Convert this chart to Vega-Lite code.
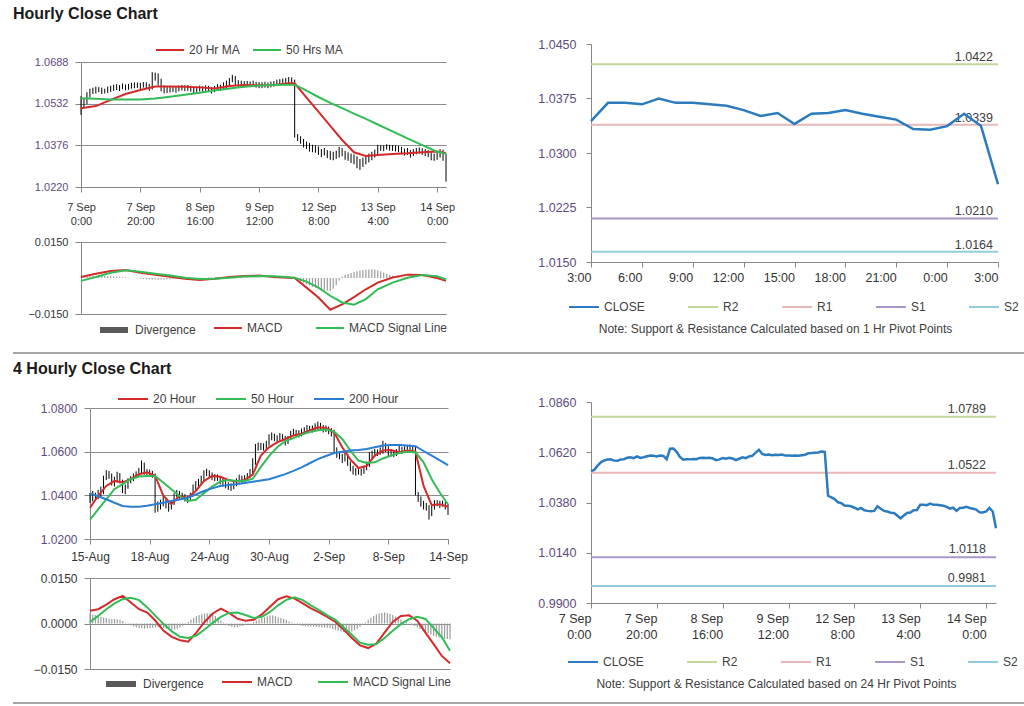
{
"$schema": "https://vega.github.io/schema/vega-lite/v6.json",
"background": "white",
"padding": {"left": 13, "top": 6, "right": 0, "bottom": 0},
"title": {"text": "Hourly Close Chart", "anchor": "start", "frame": "bounds", "fontSize": 16, "fontWeight": "bold", "color": "#1a1a1a", "offset": 13},
"datasets": {
"h1": [
{"t":"2016-09-07 00:00","lo":1.0490,"hi":1.0560,"c":1.0530,"d":0.0002},
{"t":"2016-09-07 01:00","lo":1.0515,"hi":1.0552,"c":1.0536,"d":0.0004},
{"t":"2016-09-07 02:00","lo":1.0530,"hi":1.0575,"c":1.0556,"d":0.0006},
{"t":"2016-09-07 03:00","lo":1.0555,"hi":1.0588,"c":1.0572,"d":0.0007},
{"t":"2016-09-07 04:00","lo":1.0568,"hi":1.0592,"c":1.0581,"d":0.0008},
{"t":"2016-09-07 05:00","lo":1.0570,"hi":1.0596,"c":1.0585,"d":0.0009},
{"t":"2016-09-07 06:00","lo":1.0575,"hi":1.0594,"c":1.0586,"d":0.0010},
{"t":"2016-09-07 07:00","lo":1.0568,"hi":1.0592,"c":1.0580,"d":0.0010},
{"t":"2016-09-07 08:00","lo":1.0570,"hi":1.0588,"c":1.0579,"d":0.0009},
{"t":"2016-09-07 09:00","lo":1.0572,"hi":1.0596,"c":1.0585,"d":0.0008},
{"t":"2016-09-07 10:00","lo":1.0576,"hi":1.0599,"c":1.0587,"d":0.0008},
{"t":"2016-09-07 11:00","lo":1.0580,"hi":1.0603,"c":1.0594,"d":0.0007},
{"t":"2016-09-07 12:00","lo":1.0583,"hi":1.0605,"c":1.0596,"d":0.0006},
{"t":"2016-09-07 13:00","lo":1.0579,"hi":1.0602,"c":1.0592,"d":0.0004},
{"t":"2016-09-07 14:00","lo":1.0586,"hi":1.0608,"c":1.0600,"d":0.0003},
{"t":"2016-09-07 15:00","lo":1.0582,"hi":1.0604,"c":1.0593,"d":0.0002},
{"t":"2016-09-07 16:00","lo":1.0584,"hi":1.0606,"c":1.0596,"d":0.0001},
{"t":"2016-09-07 17:00","lo":1.0588,"hi":1.0610,"c":1.0601,"d":0.0000},
{"t":"2016-09-07 18:00","lo":1.0590,"hi":1.0612,"c":1.0604,"d":-0.0001},
{"t":"2016-09-07 19:00","lo":1.0591,"hi":1.0611,"c":1.0603,"d":-0.0002},
{"t":"2016-09-07 20:00","lo":1.0587,"hi":1.0610,"c":1.0600,"d":-0.0003},
{"t":"2016-09-07 21:00","lo":1.0592,"hi":1.0613,"c":1.0604,"d":-0.0004},
{"t":"2016-09-07 22:00","lo":1.0590,"hi":1.0612,"c":1.0602,"d":-0.0005},
{"t":"2016-09-07 23:00","lo":1.0580,"hi":1.0606,"c":1.0587,"d":-0.0005},
{"t":"2016-09-08 00:00","lo":1.0585,"hi":1.0650,"c":1.0637,"d":-0.0006},
{"t":"2016-09-08 01:00","lo":1.0618,"hi":1.0648,"c":1.0638,"d":-0.0006},
{"t":"2016-09-08 02:00","lo":1.0600,"hi":1.0645,"c":1.0622,"d":-0.0007},
{"t":"2016-09-08 03:00","lo":1.0578,"hi":1.0625,"c":1.0598,"d":-0.0006},
{"t":"2016-09-08 04:00","lo":1.0570,"hi":1.0600,"c":1.0584,"d":-0.0006},
{"t":"2016-09-08 05:00","lo":1.0572,"hi":1.0596,"c":1.0586,"d":-0.0005},
{"t":"2016-09-08 06:00","lo":1.0574,"hi":1.0595,"c":1.0586,"d":-0.0005},
{"t":"2016-09-08 07:00","lo":1.0576,"hi":1.0597,"c":1.0588,"d":-0.0004},
{"t":"2016-09-08 08:00","lo":1.0573,"hi":1.0596,"c":1.0587,"d":-0.0004},
{"t":"2016-09-08 09:00","lo":1.0578,"hi":1.0600,"c":1.0593,"d":-0.0003},
{"t":"2016-09-08 10:00","lo":1.0581,"hi":1.0602,"c":1.0594,"d":-0.0003},
{"t":"2016-09-08 11:00","lo":1.0579,"hi":1.0601,"c":1.0593,"d":-0.0002},
{"t":"2016-09-08 12:00","lo":1.0580,"hi":1.0602,"c":1.0594,"d":-0.0002},
{"t":"2016-09-08 13:00","lo":1.0577,"hi":1.0599,"c":1.0590,"d":-0.0001},
{"t":"2016-09-08 14:00","lo":1.0570,"hi":1.0595,"c":1.0582,"d":-0.0001},
{"t":"2016-09-08 15:00","lo":1.0574,"hi":1.0596,"c":1.0586,"d":0.0000},
{"t":"2016-09-08 16:00","lo":1.0578,"hi":1.0600,"c":1.0592,"d":0.0000},
{"t":"2016-09-08 17:00","lo":1.0576,"hi":1.0598,"c":1.0589,"d":0.0001},
{"t":"2016-09-08 18:00","lo":1.0580,"hi":1.0601,"c":1.0593,"d":0.0001},
{"t":"2016-09-08 19:00","lo":1.0577,"hi":1.0599,"c":1.0590,"d":0.0002},
{"t":"2016-09-08 20:00","lo":1.0570,"hi":1.0594,"c":1.0582,"d":0.0002},
{"t":"2016-09-08 21:00","lo":1.0575,"hi":1.0598,"c":1.0589,"d":0.0002},
{"t":"2016-09-08 22:00","lo":1.0582,"hi":1.0605,"c":1.0596,"d":0.0003},
{"t":"2016-09-08 23:00","lo":1.0580,"hi":1.0603,"c":1.0592,"d":0.0003},
{"t":"2016-09-09 00:00","lo":1.0586,"hi":1.0612,"c":1.0600,"d":0.0003},
{"t":"2016-09-09 01:00","lo":1.0590,"hi":1.0618,"c":1.0603,"d":0.0003},
{"t":"2016-09-09 02:00","lo":1.0600,"hi":1.0628,"c":1.0618,"d":0.0004},
{"t":"2016-09-09 03:00","lo":1.0612,"hi":1.0640,"c":1.0632,"d":0.0004},
{"t":"2016-09-09 04:00","lo":1.0600,"hi":1.0635,"c":1.0612,"d":0.0004},
{"t":"2016-09-09 05:00","lo":1.0595,"hi":1.0620,"c":1.0607,"d":0.0003},
{"t":"2016-09-09 06:00","lo":1.0596,"hi":1.0618,"c":1.0609,"d":0.0003},
{"t":"2016-09-09 07:00","lo":1.0593,"hi":1.0616,"c":1.0606,"d":0.0002},
{"t":"2016-09-09 08:00","lo":1.0595,"hi":1.0617,"c":1.0608,"d":0.0002},
{"t":"2016-09-09 09:00","lo":1.0594,"hi":1.0615,"c":1.0607,"d":0.0002},
{"t":"2016-09-09 10:00","lo":1.0596,"hi":1.0618,"c":1.0609,"d":0.0001},
{"t":"2016-09-09 11:00","lo":1.0592,"hi":1.0614,"c":1.0604,"d":0.0001},
{"t":"2016-09-09 12:00","lo":1.0590,"hi":1.0613,"c":1.0604,"d":0.0001},
{"t":"2016-09-09 13:00","lo":1.0590,"hi":1.0612,"c":1.0603,"d":0.0000},
{"t":"2016-09-09 14:00","lo":1.0592,"hi":1.0614,"c":1.0605,"d":0.0000},
{"t":"2016-09-09 15:00","lo":1.0590,"hi":1.0612,"c":1.0603,"d":0.0000},
{"t":"2016-09-09 16:00","lo":1.0593,"hi":1.0615,"c":1.0606,"d":-0.0001},
{"t":"2016-09-09 17:00","lo":1.0596,"hi":1.0617,"c":1.0608,"d":-0.0001},
{"t":"2016-09-09 18:00","lo":1.0600,"hi":1.0622,"c":1.0615,"d":-0.0001},
{"t":"2016-09-09 19:00","lo":1.0603,"hi":1.0624,"c":1.0616,"d":-0.0002},
{"t":"2016-09-09 20:00","lo":1.0605,"hi":1.0626,"c":1.0618,"d":-0.0002},
{"t":"2016-09-09 21:00","lo":1.0606,"hi":1.0628,"c":1.0619,"d":-0.0002},
{"t":"2016-09-09 22:00","lo":1.0608,"hi":1.0632,"c":1.0623,"d":-0.0002},
{"t":"2016-09-09 23:00","lo":1.0610,"hi":1.0630,"c":1.0622,"d":-0.0002},
{"t":"2016-09-12 00:00","lo":1.0405,"hi":1.0622,"c":1.0412,"d":-0.0002},
{"t":"2016-09-12 01:00","lo":1.0392,"hi":1.0418,"c":1.0404,"d":-0.0008},
{"t":"2016-09-12 02:00","lo":1.0382,"hi":1.0410,"c":1.0396,"d":-0.0014},
{"t":"2016-09-12 03:00","lo":1.0368,"hi":1.0400,"c":1.0381,"d":-0.0020},
{"t":"2016-09-12 04:00","lo":1.0362,"hi":1.0390,"c":1.0377,"d":-0.0026},
{"t":"2016-09-12 05:00","lo":1.0352,"hi":1.0385,"c":1.0366,"d":-0.0031},
{"t":"2016-09-12 06:00","lo":1.0350,"hi":1.0378,"c":1.0364,"d":-0.0036},
{"t":"2016-09-12 07:00","lo":1.0348,"hi":1.0376,"c":1.0362,"d":-0.0040},
{"t":"2016-09-12 08:00","lo":1.0340,"hi":1.0372,"c":1.0355,"d":-0.0044},
{"t":"2016-09-12 09:00","lo":1.0332,"hi":1.0362,"c":1.0347,"d":-0.0047},
{"t":"2016-09-12 10:00","lo":1.0338,"hi":1.0366,"c":1.0354,"d":-0.0050},
{"t":"2016-09-12 11:00","lo":1.0328,"hi":1.0358,"c":1.0343,"d":-0.0052},
{"t":"2016-09-12 12:00","lo":1.0322,"hi":1.0355,"c":1.0340,"d":-0.0054},
{"t":"2016-09-12 13:00","lo":1.0320,"hi":1.0352,"c":1.0338,"d":-0.0045},
{"t":"2016-09-12 14:00","lo":1.0325,"hi":1.0356,"c":1.0340,"d":-0.0030},
{"t":"2016-09-12 15:00","lo":1.0330,"hi":1.0370,"c":1.0362,"d":-0.0010},
{"t":"2016-09-12 16:00","lo":1.0335,"hi":1.0366,"c":1.0350,"d":0.0006},
{"t":"2016-09-12 17:00","lo":1.0322,"hi":1.0355,"c":1.0340,"d":0.0012},
{"t":"2016-09-12 18:00","lo":1.0318,"hi":1.0350,"c":1.0337,"d":0.0017},
{"t":"2016-09-12 19:00","lo":1.0310,"hi":1.0345,"c":1.0331,"d":0.0021},
{"t":"2016-09-12 20:00","lo":1.0305,"hi":1.0342,"c":1.0330,"d":0.0025},
{"t":"2016-09-12 21:00","lo":1.0290,"hi":1.0335,"c":1.0318,"d":0.0028},
{"t":"2016-09-12 22:00","lo":1.0284,"hi":1.0325,"c":1.0304,"d":0.0031},
{"t":"2016-09-12 23:00","lo":1.0295,"hi":1.0330,"c":1.0318,"d":0.0033},
{"t":"2016-09-13 00:00","lo":1.0305,"hi":1.0340,"c":1.0330,"d":0.0034},
{"t":"2016-09-13 01:00","lo":1.0312,"hi":1.0345,"c":1.0332,"d":0.0035},
{"t":"2016-09-13 02:00","lo":1.0320,"hi":1.0352,"c":1.0343,"d":0.0036},
{"t":"2016-09-13 03:00","lo":1.0330,"hi":1.0360,"c":1.0344,"d":0.0035},
{"t":"2016-09-13 04:00","lo":1.0342,"hi":1.0378,"c":1.0369,"d":0.0032},
{"t":"2016-09-13 05:00","lo":1.0355,"hi":1.0377,"c":1.0369,"d":0.0028},
{"t":"2016-09-13 06:00","lo":1.0354,"hi":1.0376,"c":1.0367,"d":0.0023},
{"t":"2016-09-13 07:00","lo":1.0360,"hi":1.0380,"c":1.0375,"d":0.0018},
{"t":"2016-09-13 08:00","lo":1.0356,"hi":1.0378,"c":1.0369,"d":0.0013},
{"t":"2016-09-13 09:00","lo":1.0355,"hi":1.0377,"c":1.0369,"d":0.0009},
{"t":"2016-09-13 10:00","lo":1.0353,"hi":1.0376,"c":1.0367,"d":0.0006},
{"t":"2016-09-13 11:00","lo":1.0350,"hi":1.0374,"c":1.0365,"d":0.0004},
{"t":"2016-09-13 12:00","lo":1.0345,"hi":1.0370,"c":1.0359,"d":0.0003},
{"t":"2016-09-13 13:00","lo":1.0338,"hi":1.0364,"c":1.0351,"d":0.0003},
{"t":"2016-09-13 14:00","lo":1.0340,"hi":1.0366,"c":1.0355,"d":0.0002},
{"t":"2016-09-13 15:00","lo":1.0330,"hi":1.0358,"c":1.0340,"d":0.0002},
{"t":"2016-09-13 16:00","lo":1.0336,"hi":1.0362,"c":1.0354,"d":0.0002},
{"t":"2016-09-13 17:00","lo":1.0342,"hi":1.0366,"c":1.0355,"d":0.0001},
{"t":"2016-09-13 18:00","lo":1.0345,"hi":1.0368,"c":1.0359,"d":0.0001},
{"t":"2016-09-13 19:00","lo":1.0340,"hi":1.0365,"c":1.0354,"d":0.0000},
{"t":"2016-09-13 20:00","lo":1.0336,"hi":1.0362,"c":1.0350,"d":0.0000},
{"t":"2016-09-13 21:00","lo":1.0332,"hi":1.0358,"c":1.0346,"d":-0.0001},
{"t":"2016-09-13 22:00","lo":1.0320,"hi":1.0350,"c":1.0333,"d":-0.0001},
{"t":"2016-09-13 23:00","lo":1.0318,"hi":1.0345,"c":1.0332,"d":-0.0002},
{"t":"2016-09-14 00:00","lo":1.0322,"hi":1.0348,"c":1.0337,"d":-0.0002},
{"t":"2016-09-14 01:00","lo":1.0330,"hi":1.0362,"c":1.0354,"d":-0.0003},
{"t":"2016-09-14 02:00","lo":1.0318,"hi":1.0360,"c":1.0337,"d":-0.0003},
{"t":"2016-09-14 03:00","lo":1.0240,"hi":1.0345,"c":1.0257,"d":-0.0004}
],
"h1ma": [
{"t":"2016-09-07 00:00","20 Hr MA":1.0515,"50 Hrs MA":1.0552},
{"t":"2016-09-07 05:00","20 Hr MA":1.0523,"50 Hrs MA":1.0550},
{"t":"2016-09-07 10:00","20 Hr MA":1.0546,"50 Hrs MA":1.0548},
{"t":"2016-09-07 15:00","20 Hr MA":1.0568,"50 Hrs MA":1.0548},
{"t":"2016-09-07 20:00","20 Hr MA":1.0583,"50 Hrs MA":1.0548},
{"t":"2016-09-08 01:00","20 Hr MA":1.0596,"50 Hrs MA":1.0551},
{"t":"2016-09-08 06:00","20 Hr MA":1.0596,"50 Hrs MA":1.0558},
{"t":"2016-09-08 11:00","20 Hr MA":1.0595,"50 Hrs MA":1.0565},
{"t":"2016-09-08 16:00","20 Hr MA":1.0593,"50 Hrs MA":1.0573},
{"t":"2016-09-08 21:00","20 Hr MA":1.0589,"50 Hrs MA":1.0581},
{"t":"2016-09-09 02:00","20 Hr MA":1.0598,"50 Hrs MA":1.0589},
{"t":"2016-09-09 07:00","20 Hr MA":1.0602,"50 Hrs MA":1.0595},
{"t":"2016-09-09 12:00","20 Hr MA":1.0601,"50 Hrs MA":1.0600},
{"t":"2016-09-09 17:00","20 Hr MA":1.0602,"50 Hrs MA":1.0602},
{"t":"2016-09-09 22:00","20 Hr MA":1.0608,"50 Hrs MA":1.0603},
{"t":"2016-09-12 00:00","20 Hr MA":1.0608,"50 Hrs MA":1.0603},
{"t":"2016-09-12 04:00","20 Hr MA":1.0555,"50 Hrs MA":1.0581},
{"t":"2016-09-12 08:00","20 Hr MA":1.0502,"50 Hrs MA":1.0557},
{"t":"2016-09-12 12:00","20 Hr MA":1.0449,"50 Hrs MA":1.0535},
{"t":"2016-09-12 16:00","20 Hr MA":1.0396,"50 Hrs MA":1.0515},
{"t":"2016-09-12 20:00","20 Hr MA":1.0350,"50 Hrs MA":1.0495},
{"t":"2016-09-13 00:00","20 Hr MA":1.0336,"50 Hrs MA":1.0475},
{"t":"2016-09-13 04:00","20 Hr MA":1.0340,"50 Hrs MA":1.0454},
{"t":"2016-09-13 09:00","20 Hr MA":1.0344,"50 Hrs MA":1.0428},
{"t":"2016-09-13 14:00","20 Hr MA":1.0346,"50 Hrs MA":1.0402},
{"t":"2016-09-13 19:00","20 Hr MA":1.0350,"50 Hrs MA":1.0377},
{"t":"2016-09-14 00:00","20 Hr MA":1.0353,"50 Hrs MA":1.0352},
{"t":"2016-09-14 03:00","20 Hr MA":1.0346,"50 Hrs MA":1.0344}
],
"h1macd": [
{"t":"2016-09-07 00:00","MACD":0.0004,"MACD Signal Line":-0.0012},
{"t":"2016-09-07 05:00","MACD":0.0018,"MACD Signal Line":0.0004},
{"t":"2016-09-07 10:00","MACD":0.0029,"MACD Signal Line":0.0022},
{"t":"2016-09-07 15:00","MACD":0.0033,"MACD Signal Line":0.0032},
{"t":"2016-09-07 20:00","MACD":0.0022,"MACD Signal Line":0.0026},
{"t":"2016-09-08 01:00","MACD":0.0013,"MACD Signal Line":0.0018},
{"t":"2016-09-08 06:00","MACD":0.0005,"MACD Signal Line":0.0010},
{"t":"2016-09-08 11:00","MACD":-0.0003,"MACD Signal Line":0.0001},
{"t":"2016-09-08 16:00","MACD":-0.0008,"MACD Signal Line":-0.0004},
{"t":"2016-09-08 21:00","MACD":-0.0003,"MACD Signal Line":-0.0003},
{"t":"2016-09-09 02:00","MACD":0.0004,"MACD Signal Line":0.0001},
{"t":"2016-09-09 07:00","MACD":0.0008,"MACD Signal Line":0.0006},
{"t":"2016-09-09 12:00","MACD":0.0010,"MACD Signal Line":0.0008},
{"t":"2016-09-09 17:00","MACD":0.0004,"MACD Signal Line":0.0007},
{"t":"2016-09-09 22:00","MACD":0.0001,"MACD Signal Line":0.0003},
{"t":"2016-09-12 00:00","MACD":0.0000,"MACD Signal Line":0.0001},
{"t":"2016-09-12 04:00","MACD":-0.0040,"MACD Signal Line":-0.0015},
{"t":"2016-09-12 08:00","MACD":-0.0081,"MACD Signal Line":-0.0040},
{"t":"2016-09-12 12:00","MACD":-0.0132,"MACD Signal Line":-0.0074},
{"t":"2016-09-12 16:00","MACD":-0.0110,"MACD Signal Line":-0.0102},
{"t":"2016-09-12 20:00","MACD":-0.0080,"MACD Signal Line":-0.0111},
{"t":"2016-09-13 00:00","MACD":-0.0047,"MACD Signal Line":-0.0088},
{"t":"2016-09-13 04:00","MACD":-0.0019,"MACD Signal Line":-0.0047},
{"t":"2016-09-13 09:00","MACD":0.0002,"MACD Signal Line":-0.0019},
{"t":"2016-09-13 14:00","MACD":0.0014,"MACD Signal Line":0.0001},
{"t":"2016-09-13 19:00","MACD":0.0012,"MACD Signal Line":0.0012},
{"t":"2016-09-14 00:00","MACD":0.0000,"MACD Signal Line":0.0007},
{"t":"2016-09-14 03:00","MACD":-0.0012,"MACD Signal Line":-0.0006}
],
"h4": [
{"t":"2016-08-15 00:00","lo":1.0365,"hi":1.0410,"d":0.0034},
{"t":"2016-08-15 04:00","lo":1.0372,"hi":1.0420,"d":0.0030},
{"t":"2016-08-15 08:00","lo":1.0375,"hi":1.0412,"d":0.0028},
{"t":"2016-08-15 12:00","lo":1.0382,"hi":1.0425,"d":0.0025},
{"t":"2016-08-15 16:00","lo":1.0390,"hi":1.0440,"d":0.0022},
{"t":"2016-08-15 20:00","lo":1.0405,"hi":1.0490,"d":0.0020},
{"t":"2016-08-16 00:00","lo":1.0470,"hi":1.0515,"d":0.0018},
{"t":"2016-08-16 04:00","lo":1.0475,"hi":1.0512,"d":0.0016},
{"t":"2016-08-16 08:00","lo":1.0445,"hi":1.0500,"d":0.0015},
{"t":"2016-08-16 12:00","lo":1.0440,"hi":1.0485,"d":0.0015},
{"t":"2016-08-16 16:00","lo":1.0460,"hi":1.0508,"d":0.0014},
{"t":"2016-08-16 20:00","lo":1.0455,"hi":1.0502,"d":0.0012},
{"t":"2016-08-17 00:00","lo":1.0410,"hi":1.0472,"d":0.0008},
{"t":"2016-08-17 04:00","lo":1.0405,"hi":1.0450,"d":0.0003},
{"t":"2016-08-17 08:00","lo":1.0430,"hi":1.0478,"d":-0.0002},
{"t":"2016-08-17 12:00","lo":1.0455,"hi":1.0488,"d":-0.0006},
{"t":"2016-08-17 16:00","lo":1.0465,"hi":1.0500,"d":-0.0010},
{"t":"2016-08-17 20:00","lo":1.0478,"hi":1.0510,"d":-0.0013},
{"t":"2016-08-18 00:00","lo":1.0485,"hi":1.0525,"d":-0.0015},
{"t":"2016-08-18 04:00","lo":1.0500,"hi":1.0560,"d":-0.0016},
{"t":"2016-08-18 08:00","lo":1.0495,"hi":1.0550,"d":-0.0017},
{"t":"2016-08-18 12:00","lo":1.0490,"hi":1.0520,"d":-0.0016},
{"t":"2016-08-18 16:00","lo":1.0488,"hi":1.0518,"d":-0.0015},
{"t":"2016-08-18 20:00","lo":1.0480,"hi":1.0512,"d":-0.0014},
{"t":"2016-08-19 00:00","lo":1.0320,"hi":1.0500,"d":-0.0013},
{"t":"2016-08-19 04:00","lo":1.0325,"hi":1.0372,"d":-0.0012},
{"t":"2016-08-19 08:00","lo":1.0335,"hi":1.0380,"d":-0.0013},
{"t":"2016-08-19 12:00","lo":1.0350,"hi":1.0398,"d":-0.0015},
{"t":"2016-08-19 16:00","lo":1.0340,"hi":1.0385,"d":-0.0018},
{"t":"2016-08-19 20:00","lo":1.0325,"hi":1.0365,"d":-0.0020},
{"t":"2016-08-22 00:00","lo":1.0335,"hi":1.0372,"d":-0.0022},
{"t":"2016-08-22 04:00","lo":1.0355,"hi":1.0410,"d":-0.0020},
{"t":"2016-08-22 08:00","lo":1.0390,"hi":1.0425,"d":-0.0017},
{"t":"2016-08-22 12:00","lo":1.0385,"hi":1.0420,"d":-0.0013},
{"t":"2016-08-22 16:00","lo":1.0380,"hi":1.0412,"d":-0.0008},
{"t":"2016-08-22 20:00","lo":1.0372,"hi":1.0405,"d":-0.0002},
{"t":"2016-08-23 00:00","lo":1.0365,"hi":1.0398,"d":0.0005},
{"t":"2016-08-23 04:00","lo":1.0375,"hi":1.0412,"d":0.0012},
{"t":"2016-08-23 08:00","lo":1.0395,"hi":1.0450,"d":0.0018},
{"t":"2016-08-23 12:00","lo":1.0425,"hi":1.0465,"d":0.0024},
{"t":"2016-08-23 16:00","lo":1.0440,"hi":1.0475,"d":0.0028},
{"t":"2016-08-23 20:00","lo":1.0450,"hi":1.0490,"d":0.0031},
{"t":"2016-08-24 00:00","lo":1.0465,"hi":1.0515,"d":0.0033},
{"t":"2016-08-24 04:00","lo":1.0488,"hi":1.0522,"d":0.0034},
{"t":"2016-08-24 08:00","lo":1.0480,"hi":1.0515,"d":0.0033},
{"t":"2016-08-24 12:00","lo":1.0470,"hi":1.0505,"d":0.0030},
{"t":"2016-08-24 16:00","lo":1.0465,"hi":1.0498,"d":0.0025},
{"t":"2016-08-24 20:00","lo":1.0466,"hi":1.0496,"d":0.0018},
{"t":"2016-08-25 00:00","lo":1.0450,"hi":1.0488,"d":0.0010},
{"t":"2016-08-25 04:00","lo":1.0440,"hi":1.0476,"d":0.0003},
{"t":"2016-08-25 08:00","lo":1.0432,"hi":1.0468,"d":-0.0004},
{"t":"2016-08-25 12:00","lo":1.0425,"hi":1.0460,"d":-0.0008},
{"t":"2016-08-25 16:00","lo":1.0420,"hi":1.0455,"d":-0.0011},
{"t":"2016-08-25 20:00","lo":1.0428,"hi":1.0465,"d":-0.0013},
{"t":"2016-08-26 00:00","lo":1.0442,"hi":1.0478,"d":-0.0012},
{"t":"2016-08-26 04:00","lo":1.0458,"hi":1.0495,"d":-0.0010},
{"t":"2016-08-26 08:00","lo":1.0455,"hi":1.0490,"d":-0.0008},
{"t":"2016-08-26 12:00","lo":1.0460,"hi":1.0492,"d":-0.0005},
{"t":"2016-08-26 16:00","lo":1.0468,"hi":1.0502,"d":-0.0002},
{"t":"2016-08-26 20:00","lo":1.0480,"hi":1.0520,"d":0.0002},
{"t":"2016-08-29 00:00","lo":1.0495,"hi":1.0570,"d":0.0006},
{"t":"2016-08-29 04:00","lo":1.0540,"hi":1.0635,"d":0.0010},
{"t":"2016-08-29 08:00","lo":1.0605,"hi":1.0642,"d":0.0014},
{"t":"2016-08-29 12:00","lo":1.0608,"hi":1.0640,"d":0.0018},
{"t":"2016-08-29 16:00","lo":1.0605,"hi":1.0638,"d":0.0021},
{"t":"2016-08-29 20:00","lo":1.0612,"hi":1.0650,"d":0.0024},
{"t":"2016-08-30 00:00","lo":1.0628,"hi":1.0680,"d":0.0026},
{"t":"2016-08-30 04:00","lo":1.0652,"hi":1.0688,"d":0.0026},
{"t":"2016-08-30 08:00","lo":1.0648,"hi":1.0682,"d":0.0024},
{"t":"2016-08-30 12:00","lo":1.0640,"hi":1.0675,"d":0.0021},
{"t":"2016-08-30 16:00","lo":1.0650,"hi":1.0686,"d":0.0018},
{"t":"2016-08-30 20:00","lo":1.0648,"hi":1.0680,"d":0.0015},
{"t":"2016-08-31 00:00","lo":1.0628,"hi":1.0672,"d":0.0011},
{"t":"2016-08-31 04:00","lo":1.0635,"hi":1.0672,"d":0.0007},
{"t":"2016-08-31 08:00","lo":1.0655,"hi":1.0695,"d":0.0003},
{"t":"2016-08-31 12:00","lo":1.0672,"hi":1.0705,"d":-0.0001},
{"t":"2016-08-31 16:00","lo":1.0670,"hi":1.0700,"d":-0.0004},
{"t":"2016-08-31 20:00","lo":1.0665,"hi":1.0698,"d":-0.0006},
{"t":"2016-09-01 00:00","lo":1.0670,"hi":1.0706,"d":-0.0008},
{"t":"2016-09-01 04:00","lo":1.0680,"hi":1.0712,"d":-0.0009},
{"t":"2016-09-01 08:00","lo":1.0688,"hi":1.0722,"d":-0.0010},
{"t":"2016-09-01 12:00","lo":1.0685,"hi":1.0718,"d":-0.0010},
{"t":"2016-09-01 16:00","lo":1.0688,"hi":1.0720,"d":-0.0010},
{"t":"2016-09-01 20:00","lo":1.0695,"hi":1.0730,"d":-0.0011},
{"t":"2016-09-02 00:00","lo":1.0700,"hi":1.0738,"d":-0.0012},
{"t":"2016-09-02 04:00","lo":1.0695,"hi":1.0732,"d":-0.0012},
{"t":"2016-09-02 08:00","lo":1.0688,"hi":1.0722,"d":-0.0013},
{"t":"2016-09-02 12:00","lo":1.0690,"hi":1.0720,"d":-0.0014},
{"t":"2016-09-02 16:00","lo":1.0680,"hi":1.0715,"d":-0.0016},
{"t":"2016-09-02 20:00","lo":1.0670,"hi":1.0708,"d":-0.0018},
{"t":"2016-09-05 00:00","lo":1.0590,"hi":1.0700,"d":-0.0021},
{"t":"2016-09-05 04:00","lo":1.0572,"hi":1.0620,"d":-0.0024},
{"t":"2016-09-05 08:00","lo":1.0565,"hi":1.0600,"d":-0.0026},
{"t":"2016-09-05 12:00","lo":1.0548,"hi":1.0590,"d":-0.0028},
{"t":"2016-09-05 16:00","lo":1.0555,"hi":1.0595,"d":-0.0029},
{"t":"2016-09-05 20:00","lo":1.0535,"hi":1.0590,"d":-0.0028},
{"t":"2016-09-06 00:00","lo":1.0510,"hi":1.0555,"d":-0.0026},
{"t":"2016-09-06 04:00","lo":1.0495,"hi":1.0535,"d":-0.0022},
{"t":"2016-09-06 08:00","lo":1.0490,"hi":1.0525,"d":-0.0017},
{"t":"2016-09-06 12:00","lo":1.0495,"hi":1.0528,"d":-0.0011},
{"t":"2016-09-06 16:00","lo":1.0490,"hi":1.0522,"d":-0.0004},
{"t":"2016-09-06 20:00","lo":1.0498,"hi":1.0535,"d":0.0004},
{"t":"2016-09-07 00:00","lo":1.0515,"hi":1.0555,"d":0.0012},
{"t":"2016-09-07 04:00","lo":1.0530,"hi":1.0598,"d":0.0019},
{"t":"2016-09-07 08:00","lo":1.0570,"hi":1.0605,"d":0.0025},
{"t":"2016-09-07 12:00","lo":1.0578,"hi":1.0612,"d":0.0030},
{"t":"2016-09-07 16:00","lo":1.0580,"hi":1.0610,"d":0.0033},
{"t":"2016-09-07 20:00","lo":1.0585,"hi":1.0620,"d":0.0035},
{"t":"2016-09-08 00:00","lo":1.0590,"hi":1.0650,"d":0.0036},
{"t":"2016-09-08 04:00","lo":1.0598,"hi":1.0640,"d":0.0035},
{"t":"2016-09-08 08:00","lo":1.0580,"hi":1.0625,"d":0.0032},
{"t":"2016-09-08 12:00","lo":1.0578,"hi":1.0612,"d":0.0028},
{"t":"2016-09-08 16:00","lo":1.0575,"hi":1.0605,"d":0.0023},
{"t":"2016-09-08 20:00","lo":1.0580,"hi":1.0612,"d":0.0018},
{"t":"2016-09-09 00:00","lo":1.0590,"hi":1.0635,"d":0.0013},
{"t":"2016-09-09 04:00","lo":1.0590,"hi":1.0622,"d":0.0008},
{"t":"2016-09-09 08:00","lo":1.0595,"hi":1.0625,"d":0.0004},
{"t":"2016-09-09 12:00","lo":1.0598,"hi":1.0628,"d":0.0000},
{"t":"2016-09-09 16:00","lo":1.0600,"hi":1.0632,"d":-0.0004},
{"t":"2016-09-09 20:00","lo":1.0598,"hi":1.0628,"d":-0.0008},
{"t":"2016-09-12 00:00","lo":1.0400,"hi":1.0625,"d":-0.0013},
{"t":"2016-09-12 04:00","lo":1.0370,"hi":1.0415,"d":-0.0018},
{"t":"2016-09-12 08:00","lo":1.0348,"hi":1.0395,"d":-0.0023},
{"t":"2016-09-12 12:00","lo":1.0335,"hi":1.0375,"d":-0.0028},
{"t":"2016-09-12 16:00","lo":1.0330,"hi":1.0365,"d":-0.0032},
{"t":"2016-09-12 20:00","lo":1.0289,"hi":1.0355,"d":-0.0036},
{"t":"2016-09-13 00:00","lo":1.0305,"hi":1.0360,"d":-0.0040},
{"t":"2016-09-13 04:00","lo":1.0335,"hi":1.0378,"d":-0.0043},
{"t":"2016-09-13 08:00","lo":1.0350,"hi":1.0378,"d":-0.0046},
{"t":"2016-09-13 12:00","lo":1.0342,"hi":1.0375,"d":-0.0048},
{"t":"2016-09-13 16:00","lo":1.0348,"hi":1.0376,"d":-0.0050},
{"t":"2016-09-13 20:00","lo":1.0335,"hi":1.0370,"d":-0.0051},
{"t":"2016-09-14 00:00","lo":1.0310,"hi":1.0360,"d":-0.0052}
],
"h4ma": [
{"t":"2016-08-15 00:00","20 Hour":1.0343,"50 Hour":1.0289,"200 Hour":1.0409},
{"t":"2016-08-15 12:00","20 Hour":1.0397,"50 Hour":1.0336,"200 Hour":1.0396},
{"t":"2016-08-16 00:00","20 Hour":1.0443,"50 Hour":1.0382,"200 Hour":1.0382},
{"t":"2016-08-16 12:00","20 Hour":1.0466,"50 Hour":1.0428,"200 Hour":1.0366},
{"t":"2016-08-17 00:00","20 Hour":1.0459,"50 Hour":1.0451,"200 Hour":1.0351},
{"t":"2016-08-17 12:00","20 Hour":1.0474,"50 Hour":1.0474,"200 Hour":1.0348},
{"t":"2016-08-18 00:00","20 Hour":1.0497,"50 Hour":1.0486,"200 Hour":1.0348},
{"t":"2016-08-18 12:00","20 Hour":1.0505,"50 Hour":1.0489,"200 Hour":1.0352},
{"t":"2016-08-19 00:00","20 Hour":1.0490,"50 Hour":1.0489,"200 Hour":1.0359},
{"t":"2016-08-19 12:00","20 Hour":1.0400,"50 Hour":1.0459,"200 Hour":1.0366},
{"t":"2016-08-22 00:00","20 Hour":1.0360,"50 Hour":1.0428,"200 Hour":1.0374},
{"t":"2016-08-22 12:00","20 Hour":1.0397,"50 Hour":1.0397,"200 Hour":1.0381},
{"t":"2016-08-23 00:00","20 Hour":1.0389,"50 Hour":1.0374,"200 Hour":1.0389},
{"t":"2016-08-23 12:00","20 Hour":1.0420,"50 Hour":1.0380,"200 Hour":1.0404},
{"t":"2016-08-24 00:00","20 Hour":1.0465,"50 Hour":1.0410,"200 Hour":1.0420},
{"t":"2016-08-24 12:00","20 Hour":1.0489,"50 Hour":1.0440,"200 Hour":1.0432},
{"t":"2016-08-25 00:00","20 Hour":1.0485,"50 Hour":1.0463,"200 Hour":1.0443},
{"t":"2016-08-25 12:00","20 Hour":1.0470,"50 Hour":1.0470,"200 Hour":1.0447},
{"t":"2016-08-26 00:00","20 Hour":1.0462,"50 Hour":1.0466,"200 Hour":1.0451},
{"t":"2016-08-26 12:00","20 Hour":1.0470,"50 Hour":1.0466,"200 Hour":1.0456},
{"t":"2016-08-29 00:00","20 Hour":1.0495,"50 Hour":1.0476,"200 Hour":1.0462},
{"t":"2016-08-29 12:00","20 Hour":1.0582,"50 Hour":1.0530,"200 Hour":1.0468},
{"t":"2016-08-30 00:00","20 Hour":1.0620,"50 Hour":1.0580,"200 Hour":1.0474},
{"t":"2016-08-30 12:00","20 Hour":1.0643,"50 Hour":1.0620,"200 Hour":1.0485},
{"t":"2016-08-31 00:00","20 Hour":1.0658,"50 Hour":1.0648,"200 Hour":1.0497},
{"t":"2016-08-31 12:00","20 Hour":1.0674,"50 Hour":1.0662,"200 Hour":1.0512},
{"t":"2016-09-01 00:00","20 Hour":1.0682,"50 Hour":1.0678,"200 Hour":1.0528},
{"t":"2016-09-01 12:00","20 Hour":1.0697,"50 Hour":1.0690,"200 Hour":1.0547},
{"t":"2016-09-02 00:00","20 Hour":1.0712,"50 Hour":1.0698,"200 Hour":1.0566},
{"t":"2016-09-02 12:00","20 Hour":1.0708,"50 Hour":1.0702,"200 Hour":1.0580},
{"t":"2016-09-05 00:00","20 Hour":1.0689,"50 Hour":1.0692,"200 Hour":1.0594},
{"t":"2016-09-05 12:00","20 Hour":1.0620,"50 Hour":1.0658,"200 Hour":1.0600},
{"t":"2016-09-06 00:00","20 Hour":1.0565,"50 Hour":1.0605,"200 Hour":1.0605},
{"t":"2016-09-06 12:00","20 Hour":1.0525,"50 Hour":1.0559,"200 Hour":1.0608},
{"t":"2016-09-07 00:00","20 Hour":1.0535,"50 Hour":1.0548,"200 Hour":1.0612},
{"t":"2016-09-07 12:00","20 Hour":1.0582,"50 Hour":1.0551,"200 Hour":1.0620},
{"t":"2016-09-08 00:00","20 Hour":1.0605,"50 Hour":1.0569,"200 Hour":1.0628},
{"t":"2016-09-08 12:00","20 Hour":1.0608,"50 Hour":1.0582,"200 Hour":1.0630},
{"t":"2016-09-09 00:00","20 Hour":1.0597,"50 Hour":1.0594,"200 Hour":1.0631},
{"t":"2016-09-09 12:00","20 Hour":1.0605,"50 Hour":1.0600,"200 Hour":1.0628},
{"t":"2016-09-12 00:00","20 Hour":1.0600,"50 Hour":1.0597,"200 Hour":1.0625},
{"t":"2016-09-12 12:00","20 Hour":1.0443,"50 Hour":1.0551,"200 Hour":1.0603},
{"t":"2016-09-13 00:00","20 Hour":1.0355,"50 Hour":1.0474,"200 Hour":1.0582},
{"t":"2016-09-13 12:00","20 Hour":1.0359,"50 Hour":1.0412,"200 Hour":1.0560},
{"t":"2016-09-14 00:00","20 Hour":1.0348,"50 Hour":1.0359,"200 Hour":1.0538}
],
"h4macd": [
{"t":"2016-08-15 00:00","MACD":0.0042,"MACD Signal Line":0.0005},
{"t":"2016-08-15 12:00","MACD":0.0047,"MACD Signal Line":0.0025},
{"t":"2016-08-16 00:00","MACD":0.0062,"MACD Signal Line":0.0047},
{"t":"2016-08-16 12:00","MACD":0.0080,"MACD Signal Line":0.0066},
{"t":"2016-08-17 00:00","MACD":0.0091,"MACD Signal Line":0.0080},
{"t":"2016-08-17 12:00","MACD":0.0069,"MACD Signal Line":0.0085},
{"t":"2016-08-18 00:00","MACD":0.0047,"MACD Signal Line":0.0077},
{"t":"2016-08-18 12:00","MACD":0.0036,"MACD Signal Line":0.0053},
{"t":"2016-08-19 00:00","MACD":0.0009,"MACD Signal Line":0.0025},
{"t":"2016-08-19 12:00","MACD":-0.0024,"MACD Signal Line":-0.0002},
{"t":"2016-08-22 00:00","MACD":-0.0044,"MACD Signal Line":-0.0026},
{"t":"2016-08-22 12:00","MACD":-0.0055,"MACD Signal Line":-0.0044},
{"t":"2016-08-23 00:00","MACD":-0.0060,"MACD Signal Line":-0.0048},
{"t":"2016-08-23 12:00","MACD":-0.0030,"MACD Signal Line":-0.0040},
{"t":"2016-08-24 00:00","MACD":0.0005,"MACD Signal Line":-0.0020},
{"t":"2016-08-24 12:00","MACD":0.0033,"MACD Signal Line":0.0002},
{"t":"2016-08-25 00:00","MACD":0.0049,"MACD Signal Line":0.0022},
{"t":"2016-08-25 12:00","MACD":0.0035,"MACD Signal Line":0.0035},
{"t":"2016-08-26 00:00","MACD":0.0016,"MACD Signal Line":0.0036},
{"t":"2016-08-26 12:00","MACD":0.0009,"MACD Signal Line":0.0028},
{"t":"2016-08-29 00:00","MACD":0.0012,"MACD Signal Line":0.0018},
{"t":"2016-08-29 12:00","MACD":0.0030,"MACD Signal Line":0.0022},
{"t":"2016-08-30 00:00","MACD":0.0055,"MACD Signal Line":0.0038},
{"t":"2016-08-30 12:00","MACD":0.0080,"MACD Signal Line":0.0060},
{"t":"2016-08-31 00:00","MACD":0.0090,"MACD Signal Line":0.0078},
{"t":"2016-08-31 12:00","MACD":0.0082,"MACD Signal Line":0.0086},
{"t":"2016-09-01 00:00","MACD":0.0066,"MACD Signal Line":0.0077},
{"t":"2016-09-01 12:00","MACD":0.0050,"MACD Signal Line":0.0060},
{"t":"2016-09-02 00:00","MACD":0.0037,"MACD Signal Line":0.0044},
{"t":"2016-09-02 12:00","MACD":0.0022,"MACD Signal Line":0.0027},
{"t":"2016-09-05 00:00","MACD":0.0005,"MACD Signal Line":0.0012},
{"t":"2016-09-05 12:00","MACD":-0.0020,"MACD Signal Line":-0.0013},
{"t":"2016-09-06 00:00","MACD":-0.0048,"MACD Signal Line":-0.0037},
{"t":"2016-09-06 12:00","MACD":-0.0072,"MACD Signal Line":-0.0063},
{"t":"2016-09-07 00:00","MACD":-0.0081,"MACD Signal Line":-0.0070},
{"t":"2016-09-07 12:00","MACD":-0.0066,"MACD Signal Line":-0.0068},
{"t":"2016-09-08 00:00","MACD":-0.0030,"MACD Signal Line":-0.0048},
{"t":"2016-09-08 12:00","MACD":0.0005,"MACD Signal Line":-0.0024},
{"t":"2016-09-09 00:00","MACD":0.0025,"MACD Signal Line":-0.0002},
{"t":"2016-09-09 12:00","MACD":0.0027,"MACD Signal Line":0.0014},
{"t":"2016-09-12 00:00","MACD":0.0009,"MACD Signal Line":0.0022},
{"t":"2016-09-12 12:00","MACD":-0.0030,"MACD Signal Line":0.0015},
{"t":"2016-09-13 00:00","MACD":-0.0068,"MACD Signal Line":-0.0015},
{"t":"2016-09-13 12:00","MACD":-0.0107,"MACD Signal Line":-0.0045},
{"t":"2016-09-14 00:00","MACD":-0.0131,"MACD Signal Line":-0.0090}
],
"p1": [{"s":"R2","v":1.0422},{"s":"R1","v":1.0339},{"s":"S1","v":1.0210},{"s":"S2","v":1.0164}],
"p24": [{"s":"R2","v":1.0789},{"s":"R1","v":1.0522},{"s":"S1","v":1.0118},{"s":"S2","v":0.9981}],
"sp": [{"k": 1}]
},
"spacing": 6,
"resolve": {"scale": {"color": "independent", "strokeDash": "independent"}, "legend": {"color": "independent", "strokeDash": "independent"}},
"vconcat": [
{
"spacing": -1,
"resolve": {"scale": {"color": "independent", "strokeDash": "independent"}, "legend": {"color": "independent", "strokeDash": "independent"}},
"hconcat": [
{"width": 1, "height": 1, "data": {"name": "sp"}, "mark": {"type": "point", "opacity": 0, "size": 1}, "encoding": {}},
{
"spacing": 82,
"resolve": {"scale": {"color": "independent", "strokeDash": "independent"}, "legend": {"color": "independent", "strokeDash": "independent"}},
"hconcat": [
{
"spacing": -10,
"resolve": {"scale": {"color": "independent", "strokeDash": "independent"}, "legend": {"color": "independent", "strokeDash": "independent"}},
"vconcat": [
{"width": 1, "height": 1, "data": {"name": "sp"}, "mark": {"type": "point", "opacity": 0, "size": 1}, "encoding": {}},
{
"spacing": 10,
"resolve": {"scale": {"color": "independent", "strokeDash": "independent"}, "legend": {"color": "independent", "strokeDash": "independent"}},
"vconcat": [
{
"width": 365, "height": 125,
"layer": [
{"data": {"name": "h1"}, "mark": {"type": "rule", "color": "#000000", "strokeWidth": 1},
"encoding": {
"x": {"field": "t", "type": "ordinal", "scale": {"type": "point", "padding": 0},
"axis": {"title": null, "values": ["2016-09-07 00:00","2016-09-07 20:00","2016-09-08 16:00","2016-09-09 12:00","2016-09-12 08:00","2016-09-13 04:00","2016-09-14 00:00"], "labelExpr": "[toNumber(substring(datum.value,8,10)) + ' ' + (substring(datum.value,5,7) == '08' ? 'Aug' : 'Sep'), toNumber(substring(datum.value,11,13)) + ':00']", "labelAngle": 0, "labelOverlap": false, "tickSize": 5, "labelPadding": 9, "labelLineHeight": 14, "labelFontSize": 11, "grid": false}},
"y": {"field": "lo", "type": "quantitative", "scale": {"domain": [1.022, 1.0688], "zero": false, "nice": false},
"axis": {"title": null, "values": [1.022, 1.0376, 1.0532, 1.0688], "format": ".4f", "grid": true, "tickSize": 6, "labelPadding": 7, "labelFontSize": 11, "labelColor": "#5e4b7c", "minExtent": 68, "maxExtent": 68}},
"y2": {"field": "hi"}}},
{"data": {"name": "h1ma"}, "transform": [{"fold": ["20 Hr MA", "50 Hrs MA"], "as": ["s", "v"]}],
"mark": {"type": "line", "strokeWidth": 2},
"encoding": {
"x": {"field": "t", "type": "ordinal"},
"y": {"field": "v", "type": "quantitative"},
"color": {"field": "s", "type": "nominal", "scale": {"domain": ["20 Hr MA", "50 Hrs MA"], "range": ["#d42a2a", "#33bb55"]},
"legend": {"title": null, "legendX": 74, "legendY": -27, "columnPadding": 9}}}}
]
},
{
"width": 365, "height": 72,
"layer": [
{"data": {"name": "h1"}, "mark": {"type": "rule", "color": "#9a9a9a", "strokeWidth": 1.2},
"encoding": {
"x": {"field": "t", "type": "ordinal", "scale": {"type": "point", "padding": 0}, "axis": {"title": null, "labels": false, "ticks": false, "grid": false}},
"y": {"field": "d", "type": "quantitative", "scale": {"domain": [-0.015, 0.015], "zero": false, "nice": false},
"axis": {"title": null, "values": [-0.015, 0, 0.015], "format": ".4f", "grid": true, "tickSize": 6, "labelPadding": 7, "labelFontSize": 11, "minExtent": 68, "maxExtent": 68}},
"y2": {"datum": 0},
"strokeDash": {"datum": "Divergence", "type": "nominal", "scale": {"domain": ["Divergence"], "range": [[1, 0]]},
"legend": {"title": null, "legendX": 12, "legendY": 67, "padding": 4, "symbolStrokeWidth": 6, "symbolStrokeColor": "#595959"}}}},
{"data": {"name": "h1macd"}, "transform": [{"fold": ["MACD", "MACD Signal Line"], "as": ["s", "v"]}],
"mark": {"type": "line", "strokeWidth": 2},
"encoding": {
"x": {"field": "t", "type": "ordinal"},
"y": {"field": "v", "type": "quantitative"},
"color": {"field": "s", "type": "nominal", "scale": {"domain": ["MACD", "MACD Signal Line"], "range": ["#d42a2a", "#33bb55"]},
"legend": {"title": null, "legendX": 128, "legendY": 67, "padding": 4, "columnPadding": 29}}}}
]
}
]
}
]
},
{
"width": 407, "height": 218,
"layer": [
{"data": {"name": "p1"}, "mark": {"type": "rule", "strokeWidth": 2},
"encoding": {
"y": {"field": "v", "type": "quantitative", "scale": {"domain": [1.015, 1.045], "zero": false, "nice": false},
"axis": {"title": null, "values": [1.015, 1.0225, 1.03, 1.0375, 1.045], "format": ".4f", "grid": false, "tickSize": 5, "labelPadding": 10, "labelFontSize": 12.5, "labelColor": "#5e4b7c", "minExtent": 54, "maxExtent": 54}},
"color": {"field": "s", "type": "nominal", "scale": {"domain": ["CLOSE", "R2", "R1", "S1", "S2"], "range": ["#2c7bbf", "#c4d79b", "#e6b9b8", "#a896c8", "#93cddd"]},
"legend": {"title": null, "legendX": -23, "legendY": 247, "columnPadding": 39, "symbolSize": 900}}}},
{"data": {"name": "p1"}, "mark": {"type": "text", "align": "right", "baseline": "alphabetic", "dx": -5, "dy": -3, "fontSize": 12.5, "color": "#404040"},
"encoding": {
"x": {"datum": "2016-09-14 03:00", "type": "ordinal"},
"y": {"field": "v", "type": "quantitative"},
"text": {"field": "v", "type": "quantitative", "format": ".4f"}}},
{"data": {"name": "h1"}, "transform": [{"filter": "datum.t >= '2016-09-13 03:00'"}],
"mark": {"type": "line", "strokeWidth": 2.5},
"encoding": {
"x": {"field": "t", "type": "ordinal", "scale": {"type": "point", "padding": 0},
"axis": {"title": "Note: Support & Resistance Calculated based on 1 Hr Pivot Points", "titleX": 184, "titleY": 66, "titleAlign": "center", "titleBaseline": "middle", "titleFontSize": 12, "titleFontWeight": "normal", "titleColor": "#404040",
"values": ["2016-09-13 03:00","2016-09-13 06:00","2016-09-13 09:00","2016-09-13 12:00","2016-09-13 15:00","2016-09-13 18:00","2016-09-13 21:00","2016-09-14 00:00","2016-09-14 03:00"],
"labelExpr": "toNumber(substring(datum.value,11,13)) + ':00'", "labelAngle": 0, "labelOverlap": false, "tickSize": 5, "labelPadding": 10, "labelFontSize": 12.5, "grid": false}},
"y": {"field": "c", "type": "quantitative"},
"color": {"datum": "CLOSE"}}}
]
}
]
}
]
},
{
"width": 1011, "height": 2,
"data": {"name": "sp"},
"mark": {"type": "point", "opacity": 0, "size": 1},
"encoding": {},
"view": {"fill": "#a6a6a6", "stroke": null},
"title": {"text": "4 Hourly Close Chart", "orient": "bottom", "anchor": "start", "frame": "group", "offset": 7, "fontSize": 16, "fontWeight": "bold", "color": "#1a1a1a"}
},
{
"spacing": -1,
"resolve": {"scale": {"color": "independent", "strokeDash": "independent"}, "legend": {"color": "independent", "strokeDash": "independent"}},
"hconcat": [
{"width": 1, "height": 1, "data": {"name": "sp"}, "mark": {"type": "point", "opacity": 0, "size": 1}, "encoding": {}},
{
"spacing": 69,
"resolve": {"scale": {"color": "independent", "strokeDash": "independent"}, "legend": {"color": "independent", "strokeDash": "independent"}},
"hconcat": [
{
"spacing": -20,
"resolve": {"scale": {"color": "independent", "strokeDash": "independent"}, "legend": {"color": "independent", "strokeDash": "independent"}},
"vconcat": [
{"width": 1, "height": 1, "data": {"name": "sp"}, "mark": {"type": "point", "opacity": 0, "size": 1}, "encoding": {}},
{
"spacing": 10,
"resolve": {"scale": {"color": "independent", "strokeDash": "independent"}, "legend": {"color": "independent", "strokeDash": "independent"}},
"vconcat": [
{
"width": 358, "height": 131,
"layer": [
{"data": {"name": "h4"}, "mark": {"type": "rule", "color": "#000000", "strokeWidth": 1},
"encoding": {
"x": {"field": "t", "type": "ordinal", "scale": {"type": "point", "padding": 0},
"axis": {"title": null, "values": ["2016-08-15 00:00","2016-08-18 16:00","2016-08-24 08:00","2016-08-30 00:00","2016-09-02 16:00","2016-09-08 08:00","2016-09-14 00:00"], "labelExpr": "toNumber(substring(datum.value,8,10)) + '-' + (substring(datum.value,5,7) == '08' ? 'Aug' : 'Sep')", "labelAngle": 0, "labelOverlap": false, "tickSize": 5, "labelPadding": 7, "labelFontSize": 12, "grid": false}},
"y": {"field": "lo", "type": "quantitative", "scale": {"domain": [1.02, 1.08], "zero": false, "nice": false},
"axis": {"title": null, "values": [1.02, 1.04, 1.06, 1.08], "format": ".4f", "grid": true, "tickSize": 6, "labelPadding": 7, "labelFontSize": 12, "labelColor": "#5e4b7c", "minExtent": 77, "maxExtent": 77}},
"y2": {"field": "hi"}}},
{"data": {"name": "h4ma"}, "transform": [{"fold": ["20 Hour", "50 Hour", "200 Hour"], "as": ["s", "v"]}],
"mark": {"type": "line", "strokeWidth": 2},
"encoding": {
"x": {"field": "t", "type": "ordinal"},
"y": {"field": "v", "type": "quantitative"},
"color": {"field": "s", "type": "nominal", "scale": {"domain": ["20 Hour", "50 Hour", "200 Hour"], "range": ["#d42a2a", "#33bb55", "#2a7fd4"]},
"legend": {"title": null, "legendX": 27, "legendY": -25, "columnPadding": 16, "symbolSize": 900}}}}
]
},
{
"width": 360, "height": 91,
"layer": [
{"data": {"name": "h4"}, "mark": {"type": "rule", "color": "#9a9a9a", "strokeWidth": 1.2},
"encoding": {
"x": {"field": "t", "type": "ordinal", "scale": {"type": "point", "padding": 0}, "axis": {"title": null, "labels": false, "ticks": false, "grid": false}},
"y": {"field": "d", "type": "quantitative", "scale": {"domain": [-0.015, 0.015], "zero": false, "nice": false},
"axis": {"title": null, "values": [-0.015, 0, 0.015], "format": ".4f", "grid": true, "tickSize": 6, "labelPadding": 7, "labelFontSize": 12, "minExtent": 77, "maxExtent": 77}},
"y2": {"datum": 0},
"strokeDash": {"datum": "Divergence", "type": "nominal", "scale": {"domain": ["Divergence"], "range": [[1, 0]]},
"legend": {"title": null, "legendX": 13, "legendY": 88, "symbolStrokeWidth": 6, "symbolStrokeColor": "#595959", "symbolSize": 900}}}},
{"data": {"name": "h4macd"}, "transform": [{"fold": ["MACD", "MACD Signal Line"], "as": ["s", "v"]}],
"mark": {"type": "line", "strokeWidth": 2},
"encoding": {
"x": {"field": "t", "type": "ordinal"},
"y": {"field": "v", "type": "quantitative"},
"color": {"field": "s", "type": "nominal", "scale": {"domain": ["MACD", "MACD Signal Line"], "range": ["#d42a2a", "#33bb55"]},
"legend": {"title": null, "legendX": 131, "legendY": 88, "columnPadding": 21, "symbolSize": 900}}}}
]
}
]
}
]
},
{
"width": 405, "height": 201,
"layer": [
{"data": {"name": "p24"}, "mark": {"type": "rule", "strokeWidth": 2},
"encoding": {
"y": {"field": "v", "type": "quantitative", "scale": {"domain": [0.99, 1.086], "zero": false, "nice": false},
"axis": {"title": null, "values": [0.99, 1.014, 1.038, 1.062, 1.086], "format": ".4f", "grid": false, "tickSize": 5, "labelPadding": 10, "labelFontSize": 12.5, "labelColor": "#5e4b7c", "minExtent": 54, "maxExtent": 54}},
"color": {"field": "s", "type": "nominal", "scale": {"domain": ["CLOSE", "R2", "R1", "S1", "S2"], "range": ["#2c7bbf", "#c4d79b", "#e6b9b8", "#a896c8", "#93cddd"]},
"legend": {"title": null, "legendX": -24, "legendY": 244, "columnPadding": 39, "symbolSize": 900}}}},
{"data": {"name": "p24"}, "mark": {"type": "text", "align": "right", "baseline": "alphabetic", "dx": -10, "dy": -4, "fontSize": 12.5, "color": "#404040"},
"encoding": {
"x": {"datum": "2016-09-14 03:00", "type": "ordinal"},
"y": {"field": "v", "type": "quantitative"},
"text": {"field": "v", "type": "quantitative", "format": ".4f"}}},
{"data": {"name": "h1"},
"mark": {"type": "line", "strokeWidth": 2.5},
"encoding": {
"x": {"field": "t", "type": "ordinal", "scale": {"type": "point", "padding": 0},
"axis": {"title": "Note: Support & Resistance Calculated based on 24 Hr Pivot Points", "titleX": 185, "titleY": 80, "titleAlign": "center", "titleBaseline": "middle", "titleFontSize": 12, "titleFontWeight": "normal", "titleColor": "#404040",
"values": ["2016-09-07 00:00","2016-09-07 20:00","2016-09-08 16:00","2016-09-09 12:00","2016-09-12 08:00","2016-09-13 04:00","2016-09-14 00:00"],
"labelExpr": "[toNumber(substring(datum.value,8,10)) + ' ' + (substring(datum.value,5,7) == '08' ? 'Aug' : 'Sep'), toNumber(substring(datum.value,11,13)) + ':00']", "labelAngle": 0, "labelOverlap": false, "tickSize": 5, "labelPadding": 10, "labelLineHeight": 16, "labelFontSize": 12.5, "grid": false}},
"y": {"field": "c", "type": "quantitative"},
"color": {"datum": "CLOSE"}}}
]
}
]
}
]
},
{
"width": 1011, "height": 2,
"data": {"name": "sp"},
"mark": {"type": "point", "opacity": 0, "size": 1},
"encoding": {},
"view": {"fill": "#a6a6a6", "stroke": null}
}
],
"config": {
"font": "Liberation Sans",
"view": {"stroke": null},
"axis": {"domainColor": "#868686", "tickColor": "#868686", "gridColor": "#8c8c8c", "labelColor": "#333333", "labelFont": "Liberation Sans", "titleFont": "Liberation Sans"},
"legend": {"labelFont": "Liberation Sans", "labelFontSize": 12, "labelColor": "#404040", "orient": "none", "direction": "horizontal", "symbolType": "stroke", "symbolSize": 784, "symbolStrokeWidth": 2, "labelOffset": 4, "columnPadding": 10, "padding": 0},
"title": {"font": "Liberation Sans"},
"text": {"font": "Liberation Sans"}
}
}
